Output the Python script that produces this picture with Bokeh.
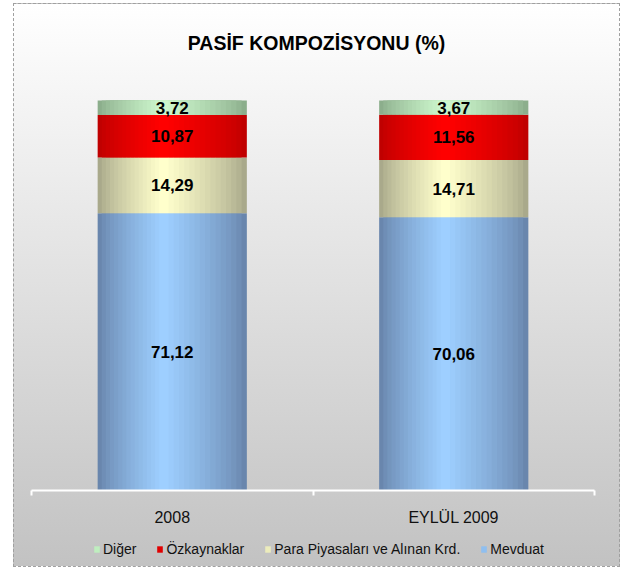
from bokeh.plotting import figure
from bokeh.layouts import column
from bokeh.models import (ColumnDataSource, Range1d, LinearAxis, FixedTicker,
                          Legend, LegendItem, Label)
from bokeh.transform import dodge
from bokeh.core.properties import value
from bokeh.embed import file_html
from bokeh.resources import INLINE

# ---------------- data ----------------
categories = ["2008", "EYLÜL 2009"]
mevduat = [71.12, 70.06]
para_piyasalari = [14.29, 14.71]
ozkaynaklar = [10.87, 11.56]
diger = [3.72, 3.67]

series_names = ["Mevduat", "Para Piyasaları ve Alınan Krd.", "Özkaynaklar", "Diğer"]
series_values = [mevduat, para_piyasalari, ozkaynaklar, diger]
# edge (dark) and centre (light) colours of each cylinder-shaded series
edge_colors = ["#6986ad", "#a9a98b", "#c00000", "#8cae8c"]
center_colors = ["#9ecfff", "#ffffcc", "#ff0000", "#cdf7cd"]
legend_colors = ["#8fbff0", "#ecECbc", "#e00000", "#bfeebf"]

title_text = "PASİF KOMPOZİSYONU (%)"

# ---------------- layout ----------------
W = 605
H1 = 526          # chart part
H2 = 36           # legend strip
BL, BR, BT, BB = 17, 25, 0, 40
frame_h = H1 - BT - BB
px_per_unit = 3.9

xpos = [i + 0.5 for i in range(len(categories))]
keys = ["s%d" % i for i in range(len(series_names))]
data = {"x": xpos}
for k, v in zip(keys, series_values):
    data[k] = v
source = ColumnDataSource(data)

p = figure(width=W, height=H1, output_backend="svg", toolbar_location=None,
           x_range=Range1d(0, len(categories)),
           y_range=Range1d(0, frame_h / px_per_unit),
           x_axis_location=None, y_axis_location=None,
           min_border_left=BL, min_border_right=BR,
           min_border_top=BT, min_border_bottom=BB)
p.border_fill_color = None
p.background_fill_color = None
p.outline_line_color = None
p.xgrid.visible = False
p.ygrid.visible = False


def mix(c1, c2, t):
    a = [int(c1[i:i + 2], 16) for i in (1, 3, 5)]
    b = [int(c2[i:i + 2], 16) for i in (1, 3, 5)]
    return "#%02x%02x%02x" % tuple(round(a[j] + (b[j] - a[j]) * t) for j in range(3))


bar_w = 0.53
K = 16
for k in range(K):
    t = k / (K - 1)
    w = bar_w * (1 - k / K)
    shift = -bar_w * 0.06 * (k / K)
    cols = [mix(e, c, t ** 0.8) for e, c in zip(edge_colors, center_colors)]
    p.vbar_stack(keys, x=dodge("x", shift), width=w, color=cols,
                 line_color=None, source=source)

# data labels
lab_x, lab_y, lab_t = [], [], []
for i, xp in enumerate(xpos):
    base = 0.0
    for vals in series_values:
        v = vals[i]
        lab_x.append(xp)
        lab_y.append(base + v / 2)
        lab_t.append(("%.2f" % v).replace(".", ","))
        base += v
p.text(x=lab_x, y=lab_y, text=lab_t, text_align="center", text_baseline="middle",
       text_font=value("Liberation Sans"), text_font_style="bold",
       text_font_size="17px", text_color="#000000")

# category axis
ax = LinearAxis(ticker=FixedTicker(ticks=xpos, minor_ticks=list(range(len(categories) + 1))))
ax.major_label_overrides = {xp: c for xp, c in zip(xpos, categories)}
ax.axis_line_color = "white"
ax.axis_line_width = 2
ax.major_tick_line_color = None
ax.major_tick_out = 0
ax.major_tick_in = 0
ax.minor_tick_line_color = "white"
ax.minor_tick_line_width = 2
ax.minor_tick_out = 5
ax.minor_tick_in = 0
ax.major_label_standoff = 13
ax.major_label_text_font = "Liberation Sans"
ax.major_label_text_font_size = "16px"
ax.major_label_text_color = "#111111"
p.add_layout(ax, "below")

# title
p.add_layout(Label(x=285, y=448, x_units="screen", y_units="screen", text=title_text,
                   text_align="center", text_baseline="middle",
                   text_font="Liberation Sans", text_font_style="bold",
                   text_font_size="19.5px", text_color="#000000"))

# ---------------- legend strip ----------------
q = figure(width=W, height=H2, output_backend="svg", toolbar_location=None,
           x_range=Range1d(0, 1), y_range=Range1d(0, 1),
           x_axis_location=None, y_axis_location=None,
           min_border=0)
q.border_fill_color = None
q.background_fill_color = None
q.outline_line_color = None
q.xgrid.visible = False
q.ygrid.visible = False
legend_glyphs = [q.vbar(x=[-10], top=[0], width=0.01, color=c, line_color=None)
                 for c in legend_colors]
items = [LegendItem(label=series_names[i], renderers=[legend_glyphs[i]])
         for i in [3, 2, 1, 0]]
legend = Legend(items=items, orientation="horizontal", location=(62, 9),
                glyph_width=7, glyph_height=8, label_standoff=3, spacing=20,
                padding=0, margin=0, label_height=16,
                label_text_font="Liberation Sans", label_text_font_size="14px",
                label_text_color="#111111",
                border_line_color=None, background_fill_alpha=0)
q.add_layout(legend, "center")

layout = column(p, q, spacing=0)
layout.margin = (3, 0, 0, 13)
layout.styles = {"background": "linear-gradient(to bottom, #ffffff 0%, #c2c2c2 100%)",
                 "border": "1px dashed #a0a0a0"}

open("out.html", "w").write(file_html(layout, INLINE))
